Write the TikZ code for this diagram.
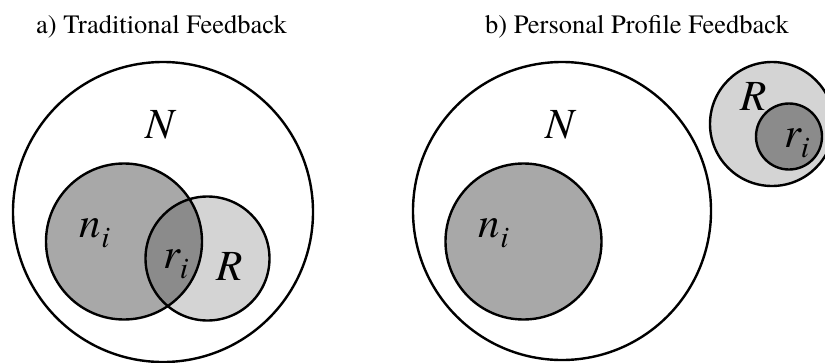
\documentclass[tikz,border=0pt]{standalone}
\usepackage{fontspec}
\setmainfont{texgyretermes}[Extension=.otf, UprightFont=*-regular,
  ItalicFont=*-italic, BoldFont=*-bold, BoldItalicFont=*-bolditalic]
\usepackage{tikz}

\tikzset{
  outline/.style={draw=black, line width=2.4pt},
  setR/.style={outline, fill=black!17},
  setn/.style={fill=black, fill opacity=0.34},
  title/.style={anchor=base, font=\fontsize{26.5}{30}\selectfont},
  setlabel/.style={anchor=base, font=\fontsize{43}{47}\selectfont\itshape}
}

\begin{document}
\begin{tikzpicture}[x=1pt, y=-1pt]
  \useasboundingbox (0,0) rectangle (825,362);

  % Titles
  \node[title] (titleA) at (161.5,33) {a) Traditional Feedback};
  \node[title] (titleB) at (637,33) {b) Personal Profile Feedback};

  % a) Traditional: whole collection and overlapping sets
  \draw[outline] (163,212) circle [radius=150pt];
  \draw[setR] (207.5,258.5) circle [radius=62pt];
  \fill[setn] (124,241.5) circle [radius=78pt];
  \draw[outline] (124,241.5) circle [radius=78pt];
  \node[setlabel] (NA) at (160,138) {N};
  \node[setlabel] (nA) at (95,237) {n\textsubscript{i}};
  \node[setlabel] (rA) at (176,268) {r\textsubscript{i}};
  \node[setlabel] (RA) at (230,280) {R};

  % b) Personal profile: relevant set kept apart
  \draw[outline] (562,211) circle [radius=149pt];
  \fill[setn] (523.5,241.5) circle [radius=78pt];
  \draw[outline] (523.5,241.5) circle [radius=78pt];
  \draw[setR] (772,124) circle [radius=62pt];
  \fill[setn] (789,136.5) circle [radius=33pt];
  \draw[outline] (789,136.5) circle [radius=33pt];
  \node[setlabel] (NB) at (560,138) {N};
  \node[setlabel] (nB) at (494,237) {n\textsubscript{i}};
  \node[setlabel] (RB) at (754,110) {R};
  \node[setlabel] (rB) at (797,147) {r\textsubscript{i}};
\end{tikzpicture}
\end{document}
